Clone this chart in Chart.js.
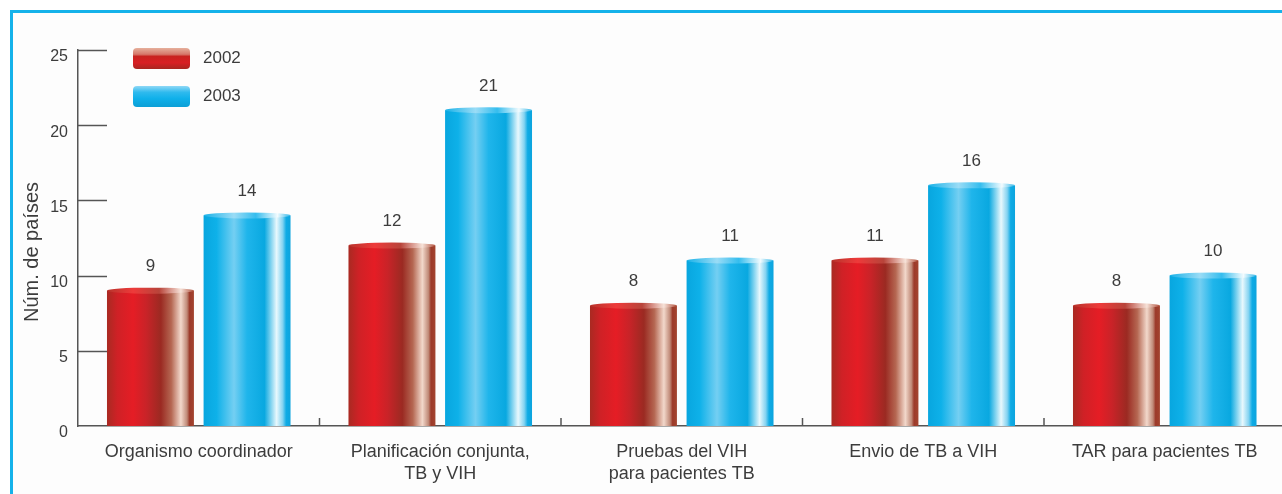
<!DOCTYPE html>
<html>
<head>
<meta charset="utf-8">
<script src="https://cdn.jsdelivr.net/npm/chart.js@4.4.0/dist/chart.umd.min.js"></script>
<style>
  html, body { margin: 0; padding: 0; background: #fff; overflow: hidden; }
  #frame { position: absolute; left: 10px; top: 10px; width: 1320px; height: 540px; border: 3px solid #15b2ea; background: #fdfdfd; }
  #wrap { position: absolute; left: 0; top: 0; width: 1300px; height: 494px; }
</style>
</head>
<body>
<div id="frame"></div>
<div id="wrap"><canvas id="myChart" width="1300" height="494"></canvas></div>
<script>
// data
var categories = [
  'Organismo coordinador',
  ['Planificación conjunta,', 'TB y VIH'],
  ['Pruebas del VIH', 'para pacientes TB'],
  'Envio de TB a VIH',
  'TAR para pacientes TB'
];
var years = ['2002', '2003'];
var values2002 = [9, 12, 8, 11, 8];
var values2003 = [14, 21, 11, 16, 10];
var yTicks = [0, 5, 10, 15, 20, 25];
var yTitle = 'Núm. de países';

var FONT = '"Liberation Sans", Arial, Helvetica, sans-serif';
var TEXT = '#3c3c3c';
var AXIS = '#555';

// cylinder colour stops (left to right)
var redBody = [[0, '#a92a22'], [0.12, '#cf2126'], [0.3, '#e51d25'], [0.45, '#c92328'], [0.62, '#9b2a22'],
  [0.74, '#b56752'], [0.85, '#f2d8cb'], [0.92, '#c08a78'], [0.95, '#9c3a2a'], [1, '#a3442f']];
var redCap = [[0, '#b8342c'], [0.3, '#ee3a3a'], [0.6, '#b8443a'], [0.85, '#f6e2d8'], [1, '#b0503c']];
var blueBody = [[0, '#08a6df'], [0.15, '#0eb1e9'], [0.35, '#74cff2'], [0.5, '#1fb5eb'], [0.7, '#09a8e0'],
  [0.84, '#e8f8fd'], [0.91, '#84d3f1'], [0.95, '#0fabe5'], [1, '#0ca4de']];
var blueCap = [[0, '#1ab2e8'], [0.35, '#9adcf6'], [0.6, '#35bdee'], [0.85, '#f2fbfe'], [1, '#30b6e8']];

function grad(ctx, l, r, stops) {
  var g = ctx.createLinearGradient(l, 0, r, 0);
  stops.forEach(function (s) { g.addColorStop(s[0], s[1]); });
  return g;
}

function drawCylinder(ctx, x, top, base, w, body, cap) {
  var l = x - w / 2, r = x + w / 2;
  ctx.fillStyle = grad(ctx, l, r, body);
  ctx.fillRect(l, top, w, base - top);
  ctx.beginPath();
  ctx.ellipse(x, top, w / 2, 3, 0, 0, Math.PI * 2);
  ctx.fillStyle = grad(ctx, l, r, cap);
  ctx.fill();
}

var cylinderPlugin = {
  id: 'cylinders',
  afterDatasetsDraw: function (chart) {
    var ctx = chart.ctx;
    var area = chart.chartArea;
    var xs = chart.scales.x, ys = chart.scales.y;
    ctx.save();
    // y tick marks pointing into the plot
    ctx.strokeStyle = AXIS;
    ctx.lineWidth = 1.5;
    yTicks.forEach(function (v) {
      if (v === 0) return;
      var py = Math.round(ys.getPixelForValue(v)) + 0.5;
      ctx.beginPath();
      ctx.moveTo(area.left, py);
      ctx.lineTo(area.left + 29, py);
      ctx.stroke();
    });
    // small ticks between categories
    for (var i = 0; i < categories.length - 1; i++) {
      var bx = (xs.getPixelForValue(i) + xs.getPixelForValue(i + 1)) / 2;
      ctx.beginPath();
      ctx.moveTo(bx, area.bottom);
      ctx.lineTo(bx, area.bottom - 8);
      ctx.stroke();
    }
    // bars as cylinders, labels above
    chart.data.datasets.forEach(function (ds, di) {
      var meta = chart.getDatasetMeta(di);
      meta.data.forEach(function (bar, j) {
        drawCylinder(ctx, bar.x, bar.y, bar.base, bar.width,
          di === 0 ? redBody : blueBody, di === 0 ? redCap : blueCap);
        ctx.fillStyle = TEXT;
        ctx.font = '17px ' + FONT;
        ctx.textAlign = 'center';
        ctx.textBaseline = 'middle';
        ctx.fillText(String(ds.data[j]), bar.x, bar.y - 24);
      });
    });
    // legend
    var lgY = [48, 86];
    chart.data.datasets.forEach(function (ds, di) {
      var y0 = lgY[di];
      var g = ctx.createLinearGradient(0, y0, 0, y0 + 21);
      if (di === 0) {
        g.addColorStop(0, '#e6b09c'); g.addColorStop(0.3, '#d6776a'); g.addColorStop(0.4, '#c8231f');
        g.addColorStop(0.7, '#d81f24'); g.addColorStop(1, '#a82620');
      } else {
        g.addColorStop(0, '#8fd8f6'); g.addColorStop(0.3, '#2fbaee'); g.addColorStop(0.6, '#0fb0ea');
        g.addColorStop(1, '#0c9fd6');
      }
      ctx.fillStyle = g;
      ctx.beginPath();
      ctx.roundRect(133, y0, 57, 21, 4);
      ctx.fill();
      ctx.fillStyle = TEXT;
      ctx.font = '17px ' + FONT;
      ctx.textAlign = 'left';
      ctx.textBaseline = 'middle';
      ctx.fillText(ds.label, 203, y0 + 10.5);
    });
    // y axis title
    ctx.translate(32.5, 252);
    ctx.rotate(-Math.PI / 2);
    ctx.fillStyle = TEXT;
    ctx.font = '20px ' + FONT;
    ctx.textAlign = 'center';
    ctx.textBaseline = 'middle';
    ctx.fillText(yTitle, 0, 0);
    ctx.restore();
  }
};

var ctx = document.getElementById('myChart').getContext('2d');
var chart = new Chart(ctx, {
  type: 'bar',
  data: {
    labels: categories,
    datasets: [
      { label: years[0], data: values2002, backgroundColor: 'rgba(0,0,0,0)' },
      { label: years[1], data: values2003, backgroundColor: 'rgba(0,0,0,0)' }
    ]
  },
  options: {
    responsive: false,
    animation: false,
    layout: { padding: { left: 0, right: 14.5, top: 50, bottom: 0 } },
    plugins: { legend: { display: false }, tooltip: { enabled: false } },
    scales: {
      x: {
        grid: { display: false },
        border: { display: true, color: AXIS, width: 1.5 },
        ticks: { color: TEXT, font: { family: FONT, size: 18, lineHeight: 1.22 }, padding: 7, maxRotation: 0, autoSkip: false },
        afterFit: function (s) { s.height = 68; }
      },
      y: {
        min: 0, max: 25,
        grid: { display: false },
        border: { display: true, color: AXIS, width: 1.5 },
        ticks: { stepSize: 5, color: TEXT, font: { family: FONT, size: 16 }, padding: 2, labelOffset: 7 },
        afterFit: function (s) { s.width = 78; }
      }
    }
  },
  plugins: [cylinderPlugin]
});
</script>
</body>
</html>
